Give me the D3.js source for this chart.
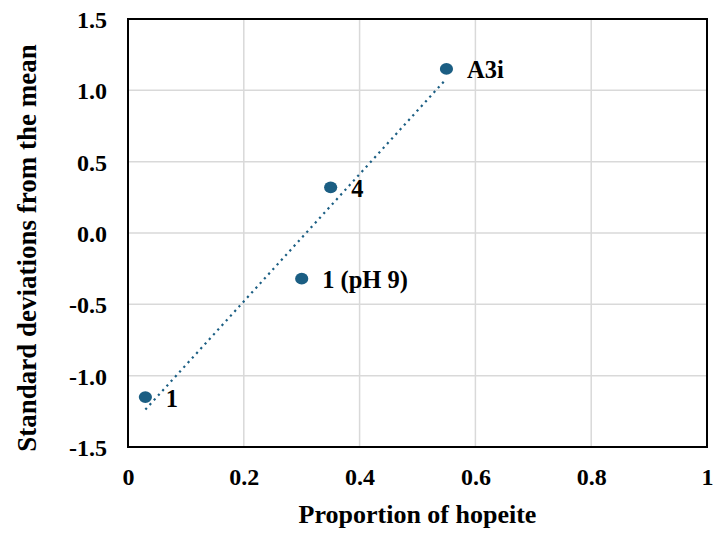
<!DOCTYPE html>
<html>
<head>
<meta charset="utf-8">
<script src="https://cdn.jsdelivr.net/npm/d3@7/dist/d3.min.js"></script>
<style>
  html, body { margin: 0; padding: 0; background: #fff; }
  svg { display: block; }
  text { font-family: "Liberation Serif", "Times New Roman", serif; font-weight: bold; fill: #000; }
</style>
</head>
<body>
<svg id="chart" width="716" height="533"></svg>
<script>
// Samples: proportion of hopeite vs. standardized score
const sampleNames = ["1", "1 (pH 9)", "4", "A3i"];
const hopeiteProportion = [0.03, 0.30, 0.35, 0.55];
const stdDeviations = [-1.15, -0.32, 0.32, 1.15];

const xTicks = [0, 0.2, 0.4, 0.6, 0.8, 1];
const xTickLabels = ["0", "0.2", "0.4", "0.6", "0.8", "1"];
const yTicks = [-1.5, -1.0, -0.5, 0.0, 0.5, 1.0, 1.5];
const yTickLabels = ["-1.5", "-1.0", "-0.5", "0.0", "0.5", "1.0", "1.5"];

const xTitle = "Proportion of hopeite";
const yTitle = "Standard deviations from the mean";

const markColor = "#1b5e83";

const svg = d3.select("#chart");
const plot = { left: 128, top: 19, right: 707, bottom: 447 };

const x = d3.scaleLinear().domain([0, 1]).range([plot.left, plot.right]);
const y = d3.scaleLinear().domain([-1.5, 1.5]).range([plot.bottom, plot.top]);

// Gridlines
const grid = svg.append("g");
grid.selectAll("line.v").data(xTicks.slice(1, -1)).join("line")
  .attr("x1", d => x(d)).attr("x2", d => x(d))
  .attr("y1", plot.top).attr("y2", plot.bottom)
  .attr("stroke", "#d9d9d9").attr("stroke-width", 1.5);
grid.selectAll("line.h").data(yTicks.slice(1, -1)).join("line")
  .attr("x1", plot.left).attr("x2", plot.right)
  .attr("y1", d => y(d)).attr("y2", d => y(d))
  .attr("stroke", "#d9d9d9").attr("stroke-width", 1.5);

// Axes (labels only; frame drawn separately)
const xAxis = d3.axisBottom(x).tickValues(xTicks)
  .tickFormat((d, i) => xTickLabels[i]).tickSize(0);
const gx = svg.append("g").attr("transform", `translate(0,${plot.bottom})`).call(xAxis);
gx.select(".domain").remove();
gx.selectAll("text").attr("y", 38).attr("dy", 0)
  .style("font-size", "24px").style("font-family", null);

const yAxis = d3.axisLeft(y).tickValues(yTicks)
  .tickFormat((d, i) => yTickLabels[i]).tickSize(0);
const gy = svg.append("g").attr("transform", `translate(${plot.left},0)`).call(yAxis);
gy.select(".domain").remove();
gy.selectAll("text").attr("x", -21).attr("dy", "0.36em")
  .style("font-size", "24px").style("font-family", null);

// Frame
svg.append("rect")
  .attr("x", plot.left).attr("y", plot.top)
  .attr("width", plot.right - plot.left).attr("height", plot.bottom - plot.top)
  .attr("fill", "none").attr("stroke", "#000").attr("stroke-width", 2);

// Least-squares trendline across the samples
const mx = d3.mean(hopeiteProportion), my = d3.mean(stdDeviations);
const sxy = d3.sum(hopeiteProportion, (v, i) => (v - mx) * (stdDeviations[i] - my));
const sxx = d3.sum(hopeiteProportion, v => (v - mx) * (v - mx));
const slope = sxy / sxx, intercept = my - slope * mx;
const xExt = d3.extent(hopeiteProportion);
svg.append("line")
  .attr("x1", x(xExt[0])).attr("y1", y(slope * xExt[0] + intercept))
  .attr("x2", x(xExt[1])).attr("y2", y(slope * xExt[1] + intercept))
  .attr("stroke", markColor).attr("stroke-width", 2.2)
  .attr("stroke-dasharray", "2.2,4.1");

// Points
const pts = hopeiteProportion.map((v, i) => ({ x: v, y: stdDeviations[i], name: sampleNames[i] }));
svg.append("g").selectAll("ellipse").data(pts).join("ellipse")
  .attr("cx", d => x(d.x)).attr("cy", d => y(d.y))
  .attr("rx", 6.6).attr("ry", 5.9)
  .attr("fill", markColor);

svg.append("g").selectAll("text").data(pts).join("text")
  .attr("x", d => x(d.x) + 20.5).attr("y", d => y(d.y) + 9.5)
  .style("font-size", "24.5px")
  .text(d => d.name);

// Axis titles
svg.append("text")
  .attr("x", (plot.left + plot.right) / 2).attr("y", 523)
  .attr("text-anchor", "middle").style("font-size", "26px")
  .text(xTitle);

svg.append("text")
  .attr("transform", `translate(36,248) rotate(-90)`)
  .attr("text-anchor", "middle").style("font-size", "27px")
  .text(yTitle);
</script>
</body>
</html>
